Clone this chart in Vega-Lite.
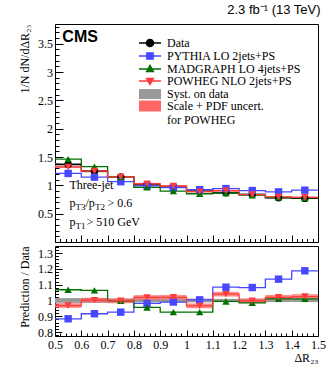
{
  "$schema": "https://vega.github.io/schema/vega-lite/v6.json",
  "padding": {"left": 17, "top": 3, "right": 17, "bottom": 5},
  "background": "white",
  "spacing": 4,
  "bounds": "flush",
  "config": {
    "view": {"stroke": "black", "strokeWidth": 1},
    "font": "Liberation Serif",
    "axis": {"domain": false, "grid": false, "ticks": true, "tickColor": "black", "tickOpacity": 1, "labelColor": "black", "labelFont": "Liberation Serif", "labelFontSize": 12, "titleFont": "Liberation Serif", "titleFontSize": 12, "titleFontWeight": "normal", "titleColor": "black", "tickWidth": 1, "zindex": 1, "tickCount": 1000, "labelOverlap": false, "labelFlush": false}
  },
  "resolve": {"scale": {"color": "independent", "shape": "independent"}, "legend": {"color": "independent", "shape": "independent"}},
  "datasets": {
    "h": [
      {"s": "Data", "b": 1, "lo": 0.5, "hi": 0.6, "x": 0.55, "y": 1.37, "r": 1, "elo": 1.349, "ehi": 1.391, "rlo": 0.985, "rhi": 1.015},
      {"s": "Data", "b": 2, "lo": 0.6, "hi": 0.7, "x": 0.65, "y": 1.25, "r": 1, "elo": 1.231, "ehi": 1.269, "rlo": 0.985, "rhi": 1.015},
      {"s": "Data", "b": 3, "lo": 0.7, "hi": 0.8, "x": 0.75, "y": 1.15, "r": 1, "elo": 1.133, "ehi": 1.167, "rlo": 0.987, "rhi": 1.013},
      {"s": "Data", "b": 4, "lo": 0.8, "hi": 0.9, "x": 0.85, "y": 1.01, "r": 1, "elo": 0.995, "ehi": 1.025, "rlo": 0.988, "rhi": 1.012},
      {"s": "Data", "b": 5, "lo": 0.9, "hi": 1.0, "x": 0.95, "y": 0.97, "r": 1, "elo": 0.955, "ehi": 0.985, "rlo": 0.988, "rhi": 1.012},
      {"s": "Data", "b": 6, "lo": 1.0, "hi": 1.1, "x": 1.05, "y": 0.92, "r": 1, "elo": 0.906, "ehi": 0.934, "rlo": 0.988, "rhi": 1.012},
      {"s": "Data", "b": 7, "lo": 1.1, "hi": 1.2, "x": 1.15, "y": 0.87, "r": 1, "elo": 0.857, "ehi": 0.883, "rlo": 0.99, "rhi": 1.01},
      {"s": "Data", "b": 8, "lo": 1.2, "hi": 1.3, "x": 1.25, "y": 0.84, "r": 1, "elo": 0.827, "ehi": 0.853, "rlo": 0.99, "rhi": 1.01},
      {"s": "Data", "b": 9, "lo": 1.3, "hi": 1.4, "x": 1.35, "y": 0.78, "r": 1, "elo": 0.768, "ehi": 0.792, "rlo": 0.99, "rhi": 1.01},
      {"s": "Data", "b": 10, "lo": 1.4, "hi": 1.5, "x": 1.45, "y": 0.77, "r": 1, "elo": 0.758, "ehi": 0.782, "rlo": 0.99, "rhi": 1.01},
      {"s": "PYTHIA LO 2jets+PS", "b": 1, "lo": 0.5, "hi": 0.6, "x": 0.55, "y": 1.211, "r": 0.884},
      {"s": "PYTHIA LO 2jets+PS", "b": 2, "lo": 0.6, "hi": 0.7, "x": 0.65, "y": 1.145, "r": 0.916},
      {"s": "PYTHIA LO 2jets+PS", "b": 3, "lo": 0.7, "hi": 0.8, "x": 0.75, "y": 1.065, "r": 0.926},
      {"s": "PYTHIA LO 2jets+PS", "b": 4, "lo": 0.8, "hi": 0.9, "x": 0.85, "y": 0.991, "r": 0.981},
      {"s": "PYTHIA LO 2jets+PS", "b": 5, "lo": 0.9, "hi": 1.0, "x": 0.95, "y": 0.96, "r": 0.99},
      {"s": "PYTHIA LO 2jets+PS", "b": 6, "lo": 1.0, "hi": 1.1, "x": 1.05, "y": 0.924, "r": 1.004},
      {"s": "PYTHIA LO 2jets+PS", "b": 7, "lo": 1.1, "hi": 1.2, "x": 1.15, "y": 0.943, "r": 1.084},
      {"s": "PYTHIA LO 2jets+PS", "b": 8, "lo": 1.2, "hi": 1.3, "x": 1.25, "y": 0.909, "r": 1.082},
      {"s": "PYTHIA LO 2jets+PS", "b": 9, "lo": 1.3, "hi": 1.4, "x": 1.35, "y": 0.885, "r": 1.135},
      {"s": "PYTHIA LO 2jets+PS", "b": 10, "lo": 1.4, "hi": 1.5, "x": 1.45, "y": 0.915, "r": 1.188},
      {"s": "MADGRAPH LO 4jets+PS", "b": 1, "lo": 0.5, "hi": 0.6, "x": 0.55, "y": 1.463, "r": 1.068},
      {"s": "MADGRAPH LO 4jets+PS", "b": 2, "lo": 0.6, "hi": 0.7, "x": 0.65, "y": 1.33, "r": 1.064},
      {"s": "MADGRAPH LO 4jets+PS", "b": 3, "lo": 0.7, "hi": 0.8, "x": 0.75, "y": 1.148, "r": 0.998},
      {"s": "MADGRAPH LO 4jets+PS", "b": 4, "lo": 0.8, "hi": 0.9, "x": 0.85, "y": 0.966, "r": 0.956},
      {"s": "MADGRAPH LO 4jets+PS", "b": 5, "lo": 0.9, "hi": 1.0, "x": 0.95, "y": 0.898, "r": 0.926},
      {"s": "MADGRAPH LO 4jets+PS", "b": 6, "lo": 1.0, "hi": 1.1, "x": 1.05, "y": 0.852, "r": 0.926},
      {"s": "MADGRAPH LO 4jets+PS", "b": 7, "lo": 1.1, "hi": 1.2, "x": 1.15, "y": 0.865, "r": 0.994},
      {"s": "MADGRAPH LO 4jets+PS", "b": 8, "lo": 1.2, "hi": 1.3, "x": 1.25, "y": 0.827, "r": 0.985},
      {"s": "MADGRAPH LO 4jets+PS", "b": 9, "lo": 1.3, "hi": 1.4, "x": 1.35, "y": 0.788, "r": 1.01},
      {"s": "MADGRAPH LO 4jets+PS", "b": 10, "lo": 1.4, "hi": 1.5, "x": 1.45, "y": 0.778, "r": 1.01},
      {"s": "POWHEG NLO 2jets+PS", "b": 1, "lo": 0.5, "hi": 0.6, "x": 0.55, "y": 1.326, "r": 0.968, "elo": 1.306, "ehi": 1.346, "rlo": 0.953, "rhi": 0.983},
      {"s": "POWHEG NLO 2jets+PS", "b": 2, "lo": 0.6, "hi": 0.7, "x": 0.65, "y": 1.253, "r": 1.002, "elo": 1.234, "ehi": 1.272, "rlo": 0.987, "rhi": 1.017},
      {"s": "POWHEG NLO 2jets+PS", "b": 3, "lo": 0.7, "hi": 0.8, "x": 0.75, "y": 1.148, "r": 0.998, "elo": 1.131, "ehi": 1.165, "rlo": 0.983, "rhi": 1.013},
      {"s": "POWHEG NLO 2jets+PS", "b": 4, "lo": 0.8, "hi": 0.9, "x": 0.85, "y": 1.029, "r": 1.019, "elo": 1.014, "ehi": 1.044, "rlo": 1.004, "rhi": 1.034},
      {"s": "POWHEG NLO 2jets+PS", "b": 5, "lo": 0.9, "hi": 1.0, "x": 0.95, "y": 0.989, "r": 1.02, "elo": 0.974, "ehi": 1.004, "rlo": 1.005, "rhi": 1.035},
      {"s": "POWHEG NLO 2jets+PS", "b": 6, "lo": 1.0, "hi": 1.1, "x": 1.05, "y": 0.889, "r": 0.966, "elo": 0.876, "ehi": 0.902, "rlo": 0.951, "rhi": 0.981},
      {"s": "POWHEG NLO 2jets+PS", "b": 7, "lo": 1.1, "hi": 1.2, "x": 1.15, "y": 0.905, "r": 1.04, "elo": 0.891, "ehi": 0.919, "rlo": 1.025, "rhi": 1.055},
      {"s": "POWHEG NLO 2jets+PS", "b": 8, "lo": 1.2, "hi": 1.3, "x": 1.25, "y": 0.838, "r": 0.998, "elo": 0.825, "ehi": 0.851, "rlo": 0.983, "rhi": 1.013},
      {"s": "POWHEG NLO 2jets+PS", "b": 9, "lo": 1.3, "hi": 1.4, "x": 1.35, "y": 0.796, "r": 1.02, "elo": 0.784, "ehi": 0.808, "rlo": 1.005, "rhi": 1.035},
      {"s": "POWHEG NLO 2jets+PS", "b": 10, "lo": 1.4, "hi": 1.5, "x": 1.45, "y": 0.789, "r": 1.025, "elo": 0.777, "ehi": 0.801, "rlo": 1.01, "rhi": 1.04}
    ]
  },
  "vconcat": [
    {
      "width": 263,
      "height": 218,
      "title": {"text": "2.3 fb⁻¹ (13 TeV)", "anchor": "end", "font": "Liberation Sans", "fontSize": 13, "fontWeight": "normal", "color": "black", "offset": 4},
      "layer": [
        {
          "data": {"name": "h"},
          "transform": [{"filter": "datum.s === 'Data'"}],
          "mark": {"type": "rect", "color": "#999999"},
          "encoding": {
            "x": {"field": "lo", "type": "quantitative", "scale": {"domain": [0.5, 1.5], "nice": false, "zero": false},
              "axis": {"values": [0.5,0.52,0.54,0.56,0.58,0.6,0.62,0.64,0.66,0.68,0.7,0.72,0.74,0.76,0.78,0.8,0.82,0.84,0.86,0.88,0.9,0.92,0.94,0.96,0.98,1.0,1.02,1.04,1.06,1.08,1.1,1.12,1.14,1.16,1.18,1.2,1.22,1.24,1.26,1.28,1.3,1.32,1.34,1.36,1.38,1.4,1.42,1.44,1.46,1.48,1.5],
                "tickCount": 1000, "labels": false, "title": null, "tickSize": -7,
                "tickDash": {"condition": {"test": "abs(datum.value*10 - round(datum.value*10)) < 0.01", "value": [50, 0]}, "value": [3.5, 50]}}},
            "x2": {"field": "hi"},
            "y": {"field": "elo", "type": "quantitative", "scale": {"domain": [0, 3.85], "nice": false, "zero": false},
              "axis": {"values": [0.1,0.2,0.3,0.4,0.5,0.6,0.7,0.8,0.9,1.0,1.1,1.2,1.3,1.4,1.5,1.6,1.7,1.8,1.9,2.0,2.1,2.2,2.3,2.4,2.5,2.6,2.7,2.8,2.9,3.0,3.1,3.2,3.3,3.4,3.5,3.6,3.7,3.8],
                "tickCount": 1000, "labelOverlap": false,
                "labelExpr": "abs(datum.value*2 - round(datum.value*2)) < 0.01 ? toString(round(datum.value*10)/10) : ''",
                "title": "1/N dN/dΔR₂₃", "titleAnchor": "end", "titlePadding": 6,
                "tickSize": -8, "labelPadding": 10.5,
                "tickDash": {"condition": {"test": "abs(datum.value*2 - round(datum.value*2)) < 0.01", "value": [50, 0]}, "value": [4, 50]}}},
            "y2": {"field": "ehi"}
          }
        },
        {
          "data": {"name": "h"},
          "transform": [{"filter": "datum.s === 'POWHEG NLO 2jets+PS'"}],
          "mark": {"type": "rect", "color": "#ff6666", "opacity": 0.75},
          "encoding": {
            "x": {"field": "lo", "type": "quantitative"},
            "x2": {"field": "hi"},
            "y": {"field": "elo", "type": "quantitative"},
            "y2": {"field": "ehi"}
          }
        },
        {
          "data": {"name": "h"},
          "transform": [{"fold": ["lo", "hi"], "as": ["edge", "xe"]}],
          "mark": {"type": "line", "strokeWidth": 1.3},
          "encoding": {
            "x": {"field": "xe", "type": "quantitative"},
            "y": {"field": "y", "type": "quantitative"},
            "order": [{"field": "b"}, {"field": "xe"}],
            "color": {"field": "s", "type": "nominal",
              "scale": {"domain": ["Data", "PYTHIA LO 2jets+PS", "MADGRAPH LO 4jets+PS", "POWHEG NLO 2jets+PS", "Syst. on data", "Scale + PDF uncert. for POWHEG"],
                "range": ["black", "#4747ff", "#007000", "#ff3b3b", "#999999", "#ff6666"]},
              "legend": {
                "orient": "none", "legendX": 89, "legendY": 13, "title": null, "padding": 0,
                "labelFont": "Liberation Serif", "labelFontSize": 12, "labelColor": "black", "labelOffset": 11,
                "symbolSize": 100, "rowPadding": 0,
                "labelExpr": "datum.label === 'Scale + PDF uncert. for POWHEG' ? ['Scale + PDF uncert.', 'for POWHEG'] : datum.label",
                "encode": {
                  "symbols": {"update": {
                    "size": {"value": 484},
                    "shape": {"signal": "datum.value === 'Data' ? 'M-1,0H1M0.33,0A0.33,0.33,0,1,1,-0.33,0A0.33,0.33,0,1,1,0.33,0Z' : datum.value === 'PYTHIA LO 2jets+PS' ? 'M-1,0H1M-0.29,-0.29H0.29V0.29H-0.29Z' : datum.value === 'MADGRAPH LO 4jets+PS' ? 'M-1,0H1M0,-0.34L0.32,0.24H-0.32Z' : datum.value === 'POWHEG NLO 2jets+PS' ? 'M-1,0H1M0,0.34L0.32,-0.24H-0.32Z' : datum.value === 'Syst. on data' ? 'M-1,-0.45H1V0.45H-1Z' : 'M-1,-0.5H1V0.5H-1Z'"},
                    "fill": {"signal": "datum.value === 'Data' ? 'black' : datum.value === 'PYTHIA LO 2jets+PS' ? '#3333ff' : datum.value === 'MADGRAPH LO 4jets+PS' ? '#006e00' : datum.value === 'POWHEG NLO 2jets+PS' ? '#ff3333' : datum.value === 'Syst. on data' ? '#999999' : '#ff6666'"},
                    "stroke": {"signal": "datum.value === 'Data' ? 'black' : datum.value === 'PYTHIA LO 2jets+PS' ? '#4747ff' : datum.value === 'MADGRAPH LO 4jets+PS' ? '#007000' : datum.value === 'POWHEG NLO 2jets+PS' ? '#ff3b3b' : datum.value === 'Syst. on data' ? '#999999' : '#ff6666'"},
                    "strokeWidth": {"signal": "datum.value === 'Syst. on data' || datum.value === 'Scale + PDF uncert. for POWHEG' ? 0 : 1.3"},
                    "fillOpacity": {"value": 1},
                    "opacity": {"value": 1}
                  }}
                }
              }}
          }
        },
        {
          "data": {"name": "h"},
          "mark": {"type": "point", "filled": true, "opacity": 1},
          "encoding": {
            "x": {"field": "x", "type": "quantitative"},
            "y": {"field": "y", "type": "quantitative"},
            "color": {"field": "s", "type": "nominal",
              "scale": {"domain": ["Data", "PYTHIA LO 2jets+PS", "MADGRAPH LO 4jets+PS", "POWHEG NLO 2jets+PS", "Syst. on data", "Scale + PDF uncert. for POWHEG"],
                "range": ["black", "#3333ff", "#006e00", "#ff3333", "#999999", "#ff6666"]}},
            "shape": {"field": "s", "type": "nominal", "legend": null,
              "scale": {"domain": ["Data", "PYTHIA LO 2jets+PS", "MADGRAPH LO 4jets+PS", "POWHEG NLO 2jets+PS"],
                "range": ["circle", "square", "triangle-up", "triangle-down"]}},
            "size": {"value": 55}
          }
        },
        {
          "data": {"values": [{}]},
          "mark": {"type": "text", "text": "CMS", "font": "Liberation Sans", "fontWeight": "bold", "fontSize": 16, "align": "left", "baseline": "middle", "color": "black"},
          "encoding": {"x": {"datum": 0.528}, "y": {"datum": 3.62}}
        },
        {
          "data": {"values": [{}]},
          "mark": {"type": "text", "text": "Three-jet", "fontSize": 12, "align": "left", "baseline": "middle", "color": "black"},
          "encoding": {"x": {"datum": 0.555}, "y": {"datum": 1.0}}
        },
        {
          "data": {"values": [{}]},
          "mark": {"type": "text", "text": "p", "fontSize": 12, "align": "left", "baseline": "middle", "color": "black"},
          "encoding": {"x": {"datum": 0.555}, "y": {"datum": 0.69}}
        },
        {
          "data": {"values": [{}]},
          "mark": {"type": "text", "text": "T3", "fontSize": 9, "align": "left", "baseline": "middle", "dx": 6, "dy": 4, "color": "black"},
          "encoding": {"x": {"datum": 0.555}, "y": {"datum": 0.69}}
        },
        {
          "data": {"values": [{}]},
          "mark": {"type": "text", "text": "/p", "fontSize": 12, "align": "left", "baseline": "middle", "dx": 16, "color": "black"},
          "encoding": {"x": {"datum": 0.555}, "y": {"datum": 0.69}}
        },
        {
          "data": {"values": [{}]},
          "mark": {"type": "text", "text": "T2", "fontSize": 9, "align": "left", "baseline": "middle", "dx": 25.5, "dy": 4, "color": "black"},
          "encoding": {"x": {"datum": 0.555}, "y": {"datum": 0.69}}
        },
        {
          "data": {"values": [{}]},
          "mark": {"type": "text", "text": "> 0.6", "fontSize": 12, "align": "left", "baseline": "middle", "dx": 38, "color": "black"},
          "encoding": {"x": {"datum": 0.555}, "y": {"datum": 0.69}}
        },
        {
          "data": {"values": [{}]},
          "mark": {"type": "text", "text": "p", "fontSize": 12, "align": "left", "baseline": "middle", "color": "black"},
          "encoding": {"x": {"datum": 0.555}, "y": {"datum": 0.35}}
        },
        {
          "data": {"values": [{}]},
          "mark": {"type": "text", "text": "T1", "fontSize": 9, "align": "left", "baseline": "middle", "dx": 6, "dy": 4, "color": "black"},
          "encoding": {"x": {"datum": 0.555}, "y": {"datum": 0.35}}
        },
        {
          "data": {"values": [{}]},
          "mark": {"type": "text", "text": "> 510 GeV", "fontSize": 12, "align": "left", "baseline": "middle", "dx": 17, "color": "black"},
          "encoding": {"x": {"datum": 0.555}, "y": {"datum": 0.35}}
        }
      ]
    },
    {
      "width": 263,
      "height": 90,
      "layer": [
        {
          "data": {"name": "h"},
          "transform": [{"filter": "datum.s === 'Data'"}],
          "mark": {"type": "rect", "color": "#999999"},
          "encoding": {
            "x": {"field": "lo", "type": "quantitative", "scale": {"domain": [0.5, 1.5], "nice": false, "zero": false},
              "axis": {"values": [0.5,0.52,0.54,0.56,0.58,0.6,0.62,0.64,0.66,0.68,0.7,0.72,0.74,0.76,0.78,0.8,0.82,0.84,0.86,0.88,0.9,0.92,0.94,0.96,0.98,1.0,1.02,1.04,1.06,1.08,1.1,1.12,1.14,1.16,1.18,1.2,1.22,1.24,1.26,1.28,1.3,1.32,1.34,1.36,1.38,1.4,1.42,1.44,1.46,1.48,1.5],
                "tickCount": 1000, "labelOverlap": false,
                "labelExpr": "abs(datum.value*10 - round(datum.value*10)) < 0.01 ? toString(round(datum.value*10)/10) : ''",
                "title": "ΔR₂₃", "titleAnchor": "end", "titlePadding": 2,
                "tickSize": -6, "labelPadding": 9,
                "tickDash": {"condition": {"test": "abs(datum.value*10 - round(datum.value*10)) < 0.01", "value": [50, 0]}, "value": [3, 50]}}},
            "x2": {"field": "hi"},
            "y": {"field": "rlo", "type": "quantitative", "scale": {"domain": [0.775, 1.345], "nice": false, "zero": false},
              "axis": {"values": [0.78,0.8,0.82,0.84,0.86,0.88,0.9,0.92,0.94,0.96,0.98,1.0,1.02,1.04,1.06,1.08,1.1,1.12,1.14,1.16,1.18,1.2,1.22,1.24,1.26,1.28,1.3,1.32,1.34],
                "tickCount": 1000, "labelOverlap": false,
                "labelExpr": "abs(datum.value*10 - round(datum.value*10)) < 0.01 ? toString(round(datum.value*10)/10) : ''",
                "title": "Prediction / Data", "titleAnchor": "end", "titlePadding": 6,
                "tickSize": -7, "labelPadding": 9.5,
                "tickDash": {"condition": {"test": "abs(datum.value*10 - round(datum.value*10)) < 0.01", "value": [50, 0]}, "value": [3.5, 50]}}},
            "y2": {"field": "rhi"}
          }
        },
        {
          "data": {"name": "h"},
          "transform": [{"filter": "datum.s === 'POWHEG NLO 2jets+PS'"}],
          "mark": {"type": "rect", "color": "#ff6666", "opacity": 0.75},
          "encoding": {
            "x": {"field": "lo", "type": "quantitative"},
            "x2": {"field": "hi"},
            "y": {"field": "rlo", "type": "quantitative"},
            "y2": {"field": "rhi"}
          }
        },
        {
          "data": {"name": "h"},
          "transform": [{"filter": "datum.s !== 'Data'"}, {"fold": ["lo", "hi"], "as": ["edge", "xe"]}],
          "mark": {"type": "line", "strokeWidth": 1.3},
          "encoding": {
            "x": {"field": "xe", "type": "quantitative"},
            "y": {"field": "r", "type": "quantitative"},
            "order": [{"field": "b"}, {"field": "xe"}],
            "color": {"field": "s", "type": "nominal", "legend": null,
              "scale": {"domain": ["PYTHIA LO 2jets+PS", "MADGRAPH LO 4jets+PS", "POWHEG NLO 2jets+PS"],
                "range": ["#4747ff", "#007000", "#ff3b3b"]}}
          }
        },
        {
          "data": {"name": "h"},
          "transform": [{"filter": "datum.s !== 'Data'"}],
          "mark": {"type": "point", "filled": true, "opacity": 1},
          "encoding": {
            "x": {"field": "x", "type": "quantitative"},
            "y": {"field": "r", "type": "quantitative"},
            "color": {"field": "s", "type": "nominal", "legend": null,
              "scale": {"domain": ["PYTHIA LO 2jets+PS", "MADGRAPH LO 4jets+PS", "POWHEG NLO 2jets+PS"],
                "range": ["#3333ff", "#006e00", "#ff3333"]}},
            "shape": {"field": "s", "type": "nominal", "legend": null,
              "scale": {"domain": ["PYTHIA LO 2jets+PS", "MADGRAPH LO 4jets+PS", "POWHEG NLO 2jets+PS"],
                "range": ["square", "triangle-up", "triangle-down"]}},
            "size": {"value": 55}
          }
        }
      ]
    }
  ]
}
